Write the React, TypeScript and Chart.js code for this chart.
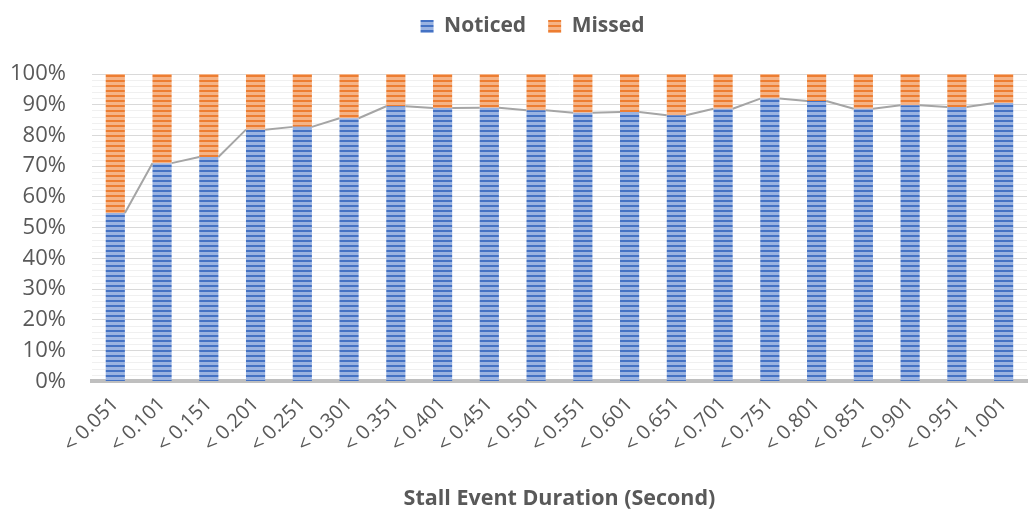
import { useEffect, useRef } from 'react'
import { Chart, registerables } from 'chart.js'

Chart.register(...registerables)

const categories = [
  '< 0.051', '< 0.101', '< 0.151', '< 0.201', '< 0.251', '< 0.301', '< 0.351',
  '< 0.401', '< 0.451', '< 0.501', '< 0.551', '< 0.601', '< 0.651', '< 0.701',
  '< 0.751', '< 0.801', '< 0.851', '< 0.901', '< 0.951', '< 1.001'
]
const noticed = [54.8, 71.0, 73.0, 81.9, 82.8, 85.6, 89.5, 88.9, 89.0, 88.2, 87.4, 87.6, 86.6, 88.7, 92.0, 91.2, 88.7, 89.8, 89.3, 90.6]
const missed = [45.2, 29.0, 27.0, 18.1, 17.2, 14.4, 10.5, 11.1, 11.0, 11.8, 12.6, 12.4, 13.4, 11.3, 8.0, 8.8, 11.3, 10.2, 10.7, 9.4]

const FONT = "'Open Sans', sans-serif"
const TEXT = '#595959'

function stripes(dark: string, light: string) {
  const c = document.createElement('canvas')
  c.width = 4
  c.height = 5
  const g = c.getContext('2d')!
  g.fillStyle = light
  g.fillRect(0, 0, 4, 5)
  g.fillStyle = dark
  g.fillRect(0, 0, 4, 2)
  return g.createPattern(c, 'repeat')!
}

// excel style series lines between the tops of the first series
const seriesLines = {
  id: 'seriesLines',
  afterDatasetsDraw(chart: any) {
    const bars = chart.getDatasetMeta(0).data
    const ctx = chart.ctx
    ctx.save()
    ctx.strokeStyle = '#A5A5A5'
    ctx.lineWidth = 2
    ctx.beginPath()
    for (let i = 0; i < bars.length - 1; i++) {
      const a = bars[i]
      const b = bars[i + 1]
      ctx.moveTo(a.x + a.width / 2, a.y)
      ctx.lineTo(b.x - b.width / 2, b.y)
    }
    ctx.stroke()
    ctx.restore()
  }
}

// more room under the legend, and legend nudged right like the original
const legendTweak = {
  id: 'legendTweak',
  beforeInit(chart: any) {
    const legend = chart.legend
    const fit = legend.fit
    legend.fit = function () {
      fit.bind(legend)()
      this.height += 27
    }
    const draw = legend.draw
    legend.draw = function () {
      this.left += 27
      this.right += 27
      draw.bind(legend)()
      this.left -= 27
      this.right -= 27
    }
  }
}

export default function App() {
  const chartRef = useRef<HTMLCanvasElement>(null)

  useEffect(() => {
    document.body.style.margin = '0'
    if (!chartRef.current) return
    const ctx = chartRef.current.getContext('2d')
    if (!ctx) return

    const chart = new Chart(ctx, {
      type: 'bar',
      data: {
        labels: categories,
        datasets: [
          {
            label: 'Noticed',
            data: noticed,
            backgroundColor: stripes('#4472C4', '#9AB3E1'),
            barPercentage: 0.41,
            categoryPercentage: 1
          },
          {
            label: 'Missed',
            data: missed,
            backgroundColor: stripes('#ED7D31', '#F5B386'),
            barPercentage: 0.41,
            categoryPercentage: 1
          }
        ]
      },
      options: {
        animation: false,
        responsive: true,
        maintainAspectRatio: false,
        layout: { padding: { left: -16, right: 3, top: -6, bottom: 8 } },
        scales: {
          x: {
            stacked: true,
            afterFit: (scale: any) => {
              scale.paddingLeft = 0
              scale.paddingRight = 0
            },
            grid: { display: false, drawTicks: false },
            border: { display: true, color: '#BFBFBF', width: 4 },
            ticks: {
              color: TEXT,
              font: { family: FONT, size: 20 },
              minRotation: 45,
              maxRotation: 45,
              padding: 11,
              autoSkip: false
            },
            title: {
              display: true,
              text: 'Stall Event Duration (Second)',
              color: TEXT,
              font: { family: FONT, size: 21.5, weight: 'bold' },
              padding: { top: 18, bottom: 0 }
            }
          },
          y: {
            stacked: true,
            min: 0,
            max: 100,
            border: { display: false },
            grid: {
              drawTicks: false,
              color: (c: any) => (c.tick.value % 10 === 0 ? '#D9D9D9' : '#F0F0F0'),
              lineWidth: 1
            },
            ticks: {
              stepSize: 2,
              autoSkip: false,
              padding: 26,
              color: TEXT,
              font: { family: FONT, size: 22 },
              callback: (v: any) => (v % 10 === 0 ? v + '%' : '')
            }
          }
        },
        plugins: {
          legend: {
            position: 'top',
            labels: {
              color: TEXT,
              font: { family: FONT, size: 21, weight: 'bold' },
              boxWidth: 13,
              boxHeight: 13,
              padding: 22
            }
          },
          tooltip: { enabled: false }
        }
      },
      plugins: [seriesLines, legendTweak]
    })

    return () => chart.destroy()
  }, [])

  return (
    <div style={{ position: 'relative', width: 1030, height: 520 }}>
      <canvas ref={chartRef} />
    </div>
  )
}
